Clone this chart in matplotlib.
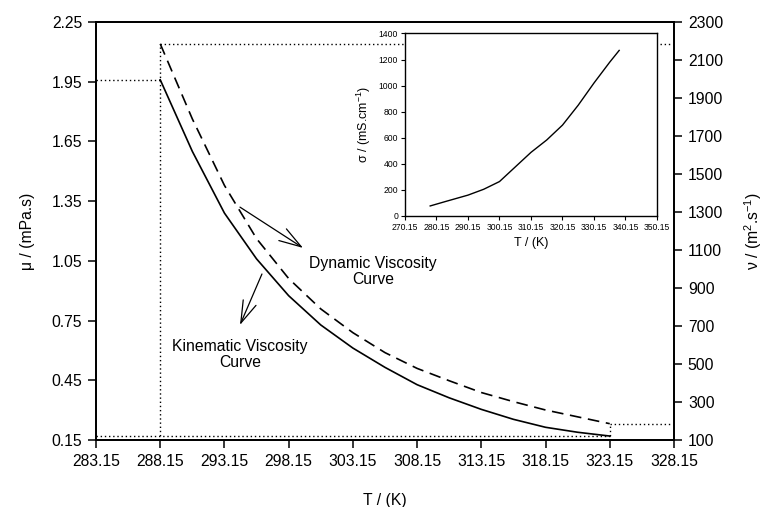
import matplotlib
matplotlib.use('Agg')
import matplotlib.pyplot as plt
import numpy as np

plt.rcParams['font.family'] = ['Liberation Sans', 'DejaVu Sans']
plt.rcParams['mathtext.default'] = 'regular'

# main data: temperature, dynamic viscosity (left), kinematic viscosity (right)
temp = [288.15, 290.65, 293.15, 295.65, 298.15, 300.65, 303.15, 305.65,
        308.15, 310.65, 313.15, 315.65, 318.15, 320.65, 323.15]
mu = [1.96, 1.60, 1.29, 1.06, 0.875, 0.728, 0.612, 0.515,
      0.428, 0.362, 0.304, 0.254, 0.214, 0.189, 0.17]
nu = [2185, 1790, 1440, 1160, 950, 790, 665, 560,
      477, 412, 350, 302, 258, 222, 186]

# inset data: conductivity
temp_in = [278.15, 283.15, 290.15, 295.15, 300.15, 305.15, 310.15,
           315.15, 320.15, 325.15, 330.15, 335.15, 338.15]
sigma = [77, 112, 160, 205, 264, 376, 488, 583, 697, 850, 1020, 1180, 1270]

x_ticks = np.arange(283.15, 328.2, 5)
mu_ticks = np.arange(0.15, 2.26, 0.3)
nu_ticks = np.arange(100, 2301, 200)

fig = plt.figure(figsize=(7.65, 5.07), dpi=100)
ax = fig.add_axes([0.1255, 0.1321, 0.7555, 0.8245])
ax2 = ax.twinx()

fs = 11.3
dot = (0, (1, 2))

ax.plot(temp, mu, color='black', lw=1.2)
ax2.plot(temp, nu, color='black', lw=1.2, ls=(0, (7, 4)))

# dotted guide lines
ax.hlines(mu[0], 283.15, temp[0], color='black', lw=1, ls=dot)
ax.hlines(mu[-1], 283.15, temp[-1], color='black', lw=1, ls=dot)
ax2.hlines(nu[0], temp[0], 328.15, color='black', lw=1, ls=dot)
ax2.hlines(nu[-1], temp[-1], 328.15, color='black', lw=1, ls=dot)
ax2.vlines(temp[0], 100, nu[0], color='black', lw=1, ls=dot)
ax2.vlines(temp[-1], 100, nu[-1], color='black', lw=1, ls=dot)

ax.set_xlim(283.15, 328.15)
ax.set_ylim(0.15, 2.25)
ax2.set_ylim(100, 2300)
ax.set_xticks(x_ticks)
ax.set_xticklabels([f'{v:.2f}' for v in x_ticks])
ax.set_yticks(mu_ticks)
ax.set_yticklabels([f'{v:.2f}' for v in mu_ticks])
ax2.set_yticks(nu_ticks)
ax2.set_yticklabels([f'{int(v)}' for v in nu_ticks])

for a in (ax, ax2):
    a.tick_params(direction='out', length=6, width=1.1, labelsize=fs, pad=4)
    for s in a.spines.values():
        s.set_linewidth(1.3)

ax.set_xlabel('T / (K)', fontsize=fs, labelpad=17)
ax.set_ylabel('μ / (mPa.s)', fontsize=fs, labelpad=12)
ax2.set_ylabel('ν / (m$^{2}$.s$^{-1}$)', fontsize=fs, labelpad=14)

# labels with arrows
arrow = dict(arrowstyle='->,head_length=1.6,head_width=0.5', color='black', lw=0.9,
             shrinkA=0, shrinkB=0)
ax.annotate('', xy=(299.27, 1.115), xytext=(294.36, 1.32), arrowprops=arrow)
ax.annotate('', xy=(294.36, 0.728), xytext=(296.07, 0.984), arrowprops=arrow)
ax.text(304.72, 0.995, 'Dynamic Viscosity\nCurve', ha='center', va='center',
        fontsize=fs, linespacing=1.1)
ax.text(294.36, 0.58, 'Kinematic Viscosity\nCurve', ha='center', va='center',
        fontsize=fs, linespacing=1.1)

# inset
axi = fig.add_axes([0.5294, 0.574, 0.3294, 0.3600])
axi.set_facecolor('white')
axi.plot(temp_in, sigma, color='black', lw=1.0)
axi.set_xlim(270.15, 350.15)
axi.set_ylim(0, 1400)
xi_ticks = np.arange(270.15, 350.2, 10)
axi.set_xticks(xi_ticks)
axi.set_xticklabels([f'{v:.2f}' for v in xi_ticks])
axi.set_yticks(np.arange(0, 1401, 200))
axi.tick_params(direction='out', length=3, width=0.8, labelsize=6.2, pad=2)
for s in axi.spines.values():
    s.set_linewidth(1.0)
axi.set_xlabel('T / (K)', fontsize=9, labelpad=4)
axi.set_ylabel('σ / (mS.cm$^{-1}$)', fontsize=9, labelpad=4)

fig.savefig('out.png', dpi=100)
